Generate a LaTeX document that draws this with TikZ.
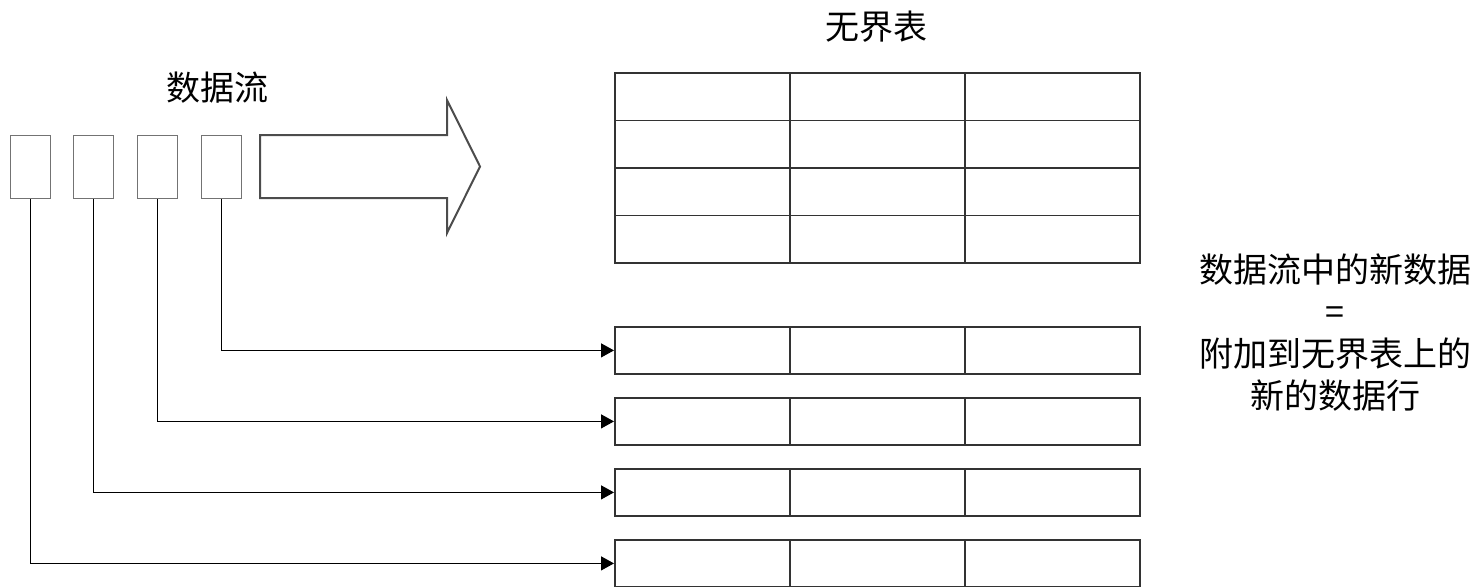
\documentclass[tikz,border=0pt]{standalone}
\usepackage{fontspec}
\newfontfamily\cjk{Noto Sans CJK SC}
\usetikzlibrary{positioning,arrows.meta}

\tikzset{
  cell/.style={draw=black!80, line width=0.9pt, minimum width=87.5pt, minimum height=#1, inner sep=0pt, anchor=north west},
  cell/.default=23.75pt,
  item/.style={draw=black!55, line width=0.6pt, minimum width=20pt, minimum height=31.5pt, inner sep=0pt, anchor=north west},
  link/.style={draw=black, line width=0.7pt, -{Triangle[length=6.5pt,width=7pt]}},
  label/.style={font=\cjk\fontsize{17pt}{21pt}\selectfont, inner sep=0pt, align=center}
}

\begin{document}
\begin{tikzpicture}[x=0.5pt, y=-0.5pt]
    \useasboundingbox (0,0) rectangle (1474,586);

    \node[label] (title) at (876,27) {无界表}; % Table title
    \node[label] (stream) at (217,88) {数据流}; % Stream title

    % Stream items
    \foreach \i/\x in {1/10,2/73,3/137,4/201}
        \node[item] (s\i) at (\x,135) {};

    % Big arrow
    \draw [line width=1pt, draw=black!70] (260,135) -- (447,135) -- (447,100) -- (480,166.5)
        -- (447,233) -- (447,198) -- (260,198) -- cycle;

    % Unbounded table
    \foreach \r in {0,1,2,3}
        \foreach \c in {0,1,2}
            \node[cell] (t\r c\c) at (614+175*\c,72+47.5*\r) {};

    % New rows
    \foreach \r/\y in {1/326,2/397,3/468,4/539}
        \foreach \c in {0,1,2}
            \node[cell=23.5pt] (r\r c\c) at (614+175*\c,\y) {};

    % Connectors
    \foreach \i/\r in {1/4,2/3,3/2,4/1}
        \draw[link] (s\i.south) |- (r\r c0.west);

    \node[label] (note) at (1335,333) {数据流中的新数据\\=\\附加到无界表上的\\新的数据行};
\end{tikzpicture}
\end{document}
